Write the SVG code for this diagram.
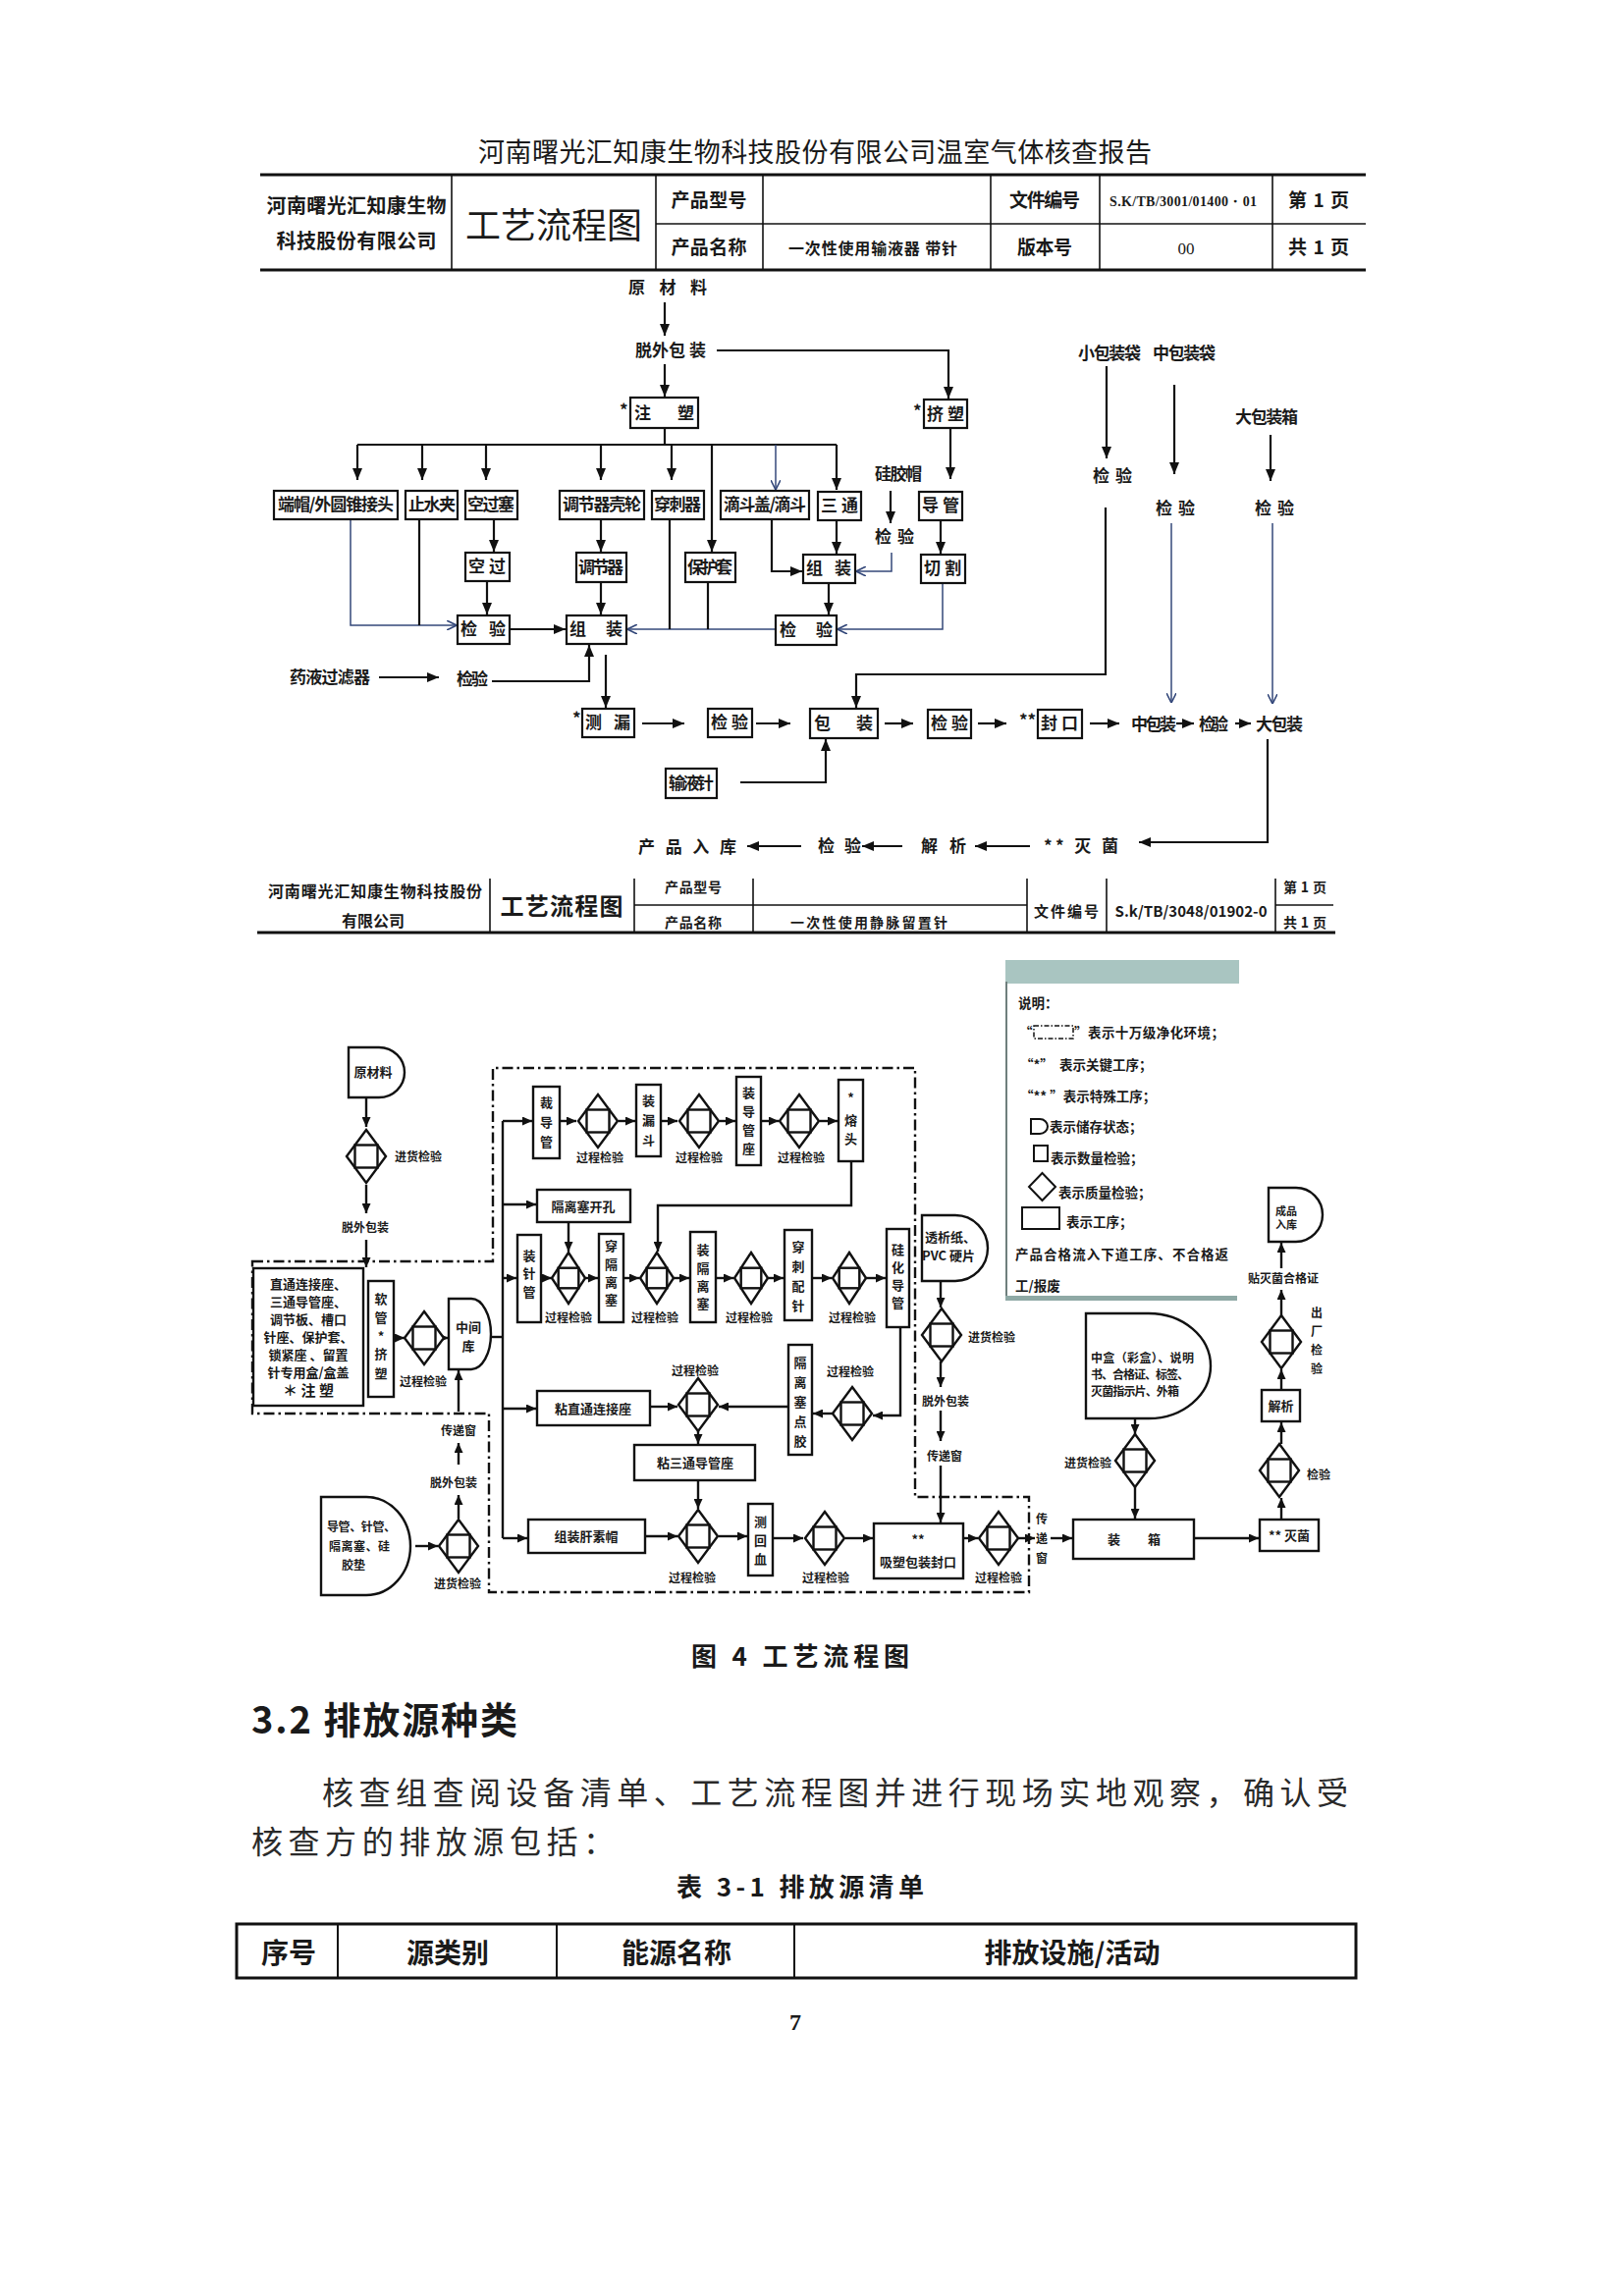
<svg xmlns="http://www.w3.org/2000/svg" width="1653" height="2339" viewBox="0 0 1653 2339">
<style>
text{font-family:"Noto Sans CJK SC","Noto Sans",sans-serif;fill:#1a1a1a}
.t0{font-size:27px}
.h1{font-size:19px;font-weight:bold}
.h2{font-size:14px;font-weight:bold}
.f1{font-size:17px;font-weight:bold}
.f2{font-size:13px;font-weight:bold}
.f3{font-size:12px;font-weight:bold}
.lg{font-size:13.5px;font-weight:bold}
.m{text-anchor:middle}
.ln{fill:none;stroke:#111;stroke-width:2.2}
.tn{fill:none;stroke:#34487a;stroke-width:1.5}
.bx{fill:#fff;stroke:#111;stroke-width:2.2}
.bx2{fill:#fff;stroke:#111;stroke-width:2.4}
.hl{stroke:#111;stroke-width:1.6}
.hk{stroke:#111;stroke-width:3}
.dd{fill:none;stroke:#111;stroke-width:2.4;stroke-dasharray:11,4,2.5,4}
.l2{fill:none;stroke:#111;stroke-width:2.4}
.sr{font-family:"Liberation Serif",serif}
.body{font-size:32px;fill:#2a2a2a}
</style>
<defs>
<marker id="a1" viewBox="0 0 12 10" markerWidth="12" markerHeight="10" refX="12" refY="5" orient="auto" markerUnits="userSpaceOnUse"><path d="M0,0 L12,5 L0,10 z" fill="#111"/></marker>
<marker id="at" viewBox="0 0 10 10" markerWidth="10" markerHeight="10" refX="10" refY="5" orient="auto" markerUnits="userSpaceOnUse"><path d="M0,0 L10,5 L0,10" fill="none" stroke="#34487a" stroke-width="1.6"/></marker>
<marker id="a2" viewBox="0 0 10 9" markerWidth="10" markerHeight="9" refX="10" refY="4.5" orient="auto" markerUnits="userSpaceOnUse"><path d="M0,0 L10,4.5 L0,9 z" fill="#111"/></marker>
<g id="dq"><polygon points="0,-27 20,0 0,27 -20,0" fill="#fff" stroke="#111" stroke-width="2.4"/><rect x="-11.5" y="-11.5" width="23" height="23" fill="none" stroke="#111" stroke-width="2.4"/></g>
<g id="dq2"><polygon points="0,-26 17,0 0,26 -17,0" fill="#fff" stroke="#111" stroke-width="2.4"/><rect x="-10.3" y="-10.3" width="20.6" height="20.6" fill="none" stroke="#111" stroke-width="2.4"/></g>
</defs>
<rect width="1653" height="2339" fill="#fff"/>

<!-- page title -->
<g id="page-title"><text class="t0 m" x="830" y="165" textLength="686">河南曙光汇知康生物科技股份有限公司温室气体核查报告</text></g>

<!-- header 1 -->
<g id="header1">
<line class="hk" x1="265" y1="178" x2="1391" y2="178"/>
<line class="hk" x1="265" y1="275" x2="1391" y2="275"/>
<line class="hl" x1="668" y1="228" x2="1391" y2="228"/>
<line class="hl" x1="460" y1="178" x2="460" y2="275"/>
<line class="hl" x1="668" y1="178" x2="668" y2="275"/>
<line class="hl" x1="777" y1="178" x2="777" y2="275"/>
<line class="hl" x1="1009" y1="178" x2="1009" y2="275"/>
<line class="hl" x1="1120" y1="178" x2="1120" y2="275"/>
<line class="hl" x1="1296" y1="178" x2="1296" y2="275"/>
<text class="m" x="363" y="217" style="font-size:20px;font-weight:bold" textLength="183">河南曙光汇知康生物</text>
<text class="m" x="363" y="253" style="font-size:20px;font-weight:bold" textLength="163">科技股份有限公司</text>
<text class="m" x="564" y="243" style="font-size:36px" textLength="180">工艺流程图</text>
<text class="h1 m" x="722" y="211" textLength="77">产品型号</text>
<text class="h1 m" x="722" y="259" textLength="77">产品名称</text>
<text class="m" x="889" y="259" style="font-size:16px;font-weight:bold" textLength="172">一次性使用输液器 带针</text>
<text class="h1 m" x="1064" y="211" textLength="72">文件编号</text>
<text class="h1 m" x="1064" y="259" textLength="56">版本号</text>
<text class="sr m" x="1205" y="210" style="font-size:14px;font-weight:bold" textLength="150">S.K/TB/3001/01400・01</text>
<text class="sr m" x="1208" y="259" style="font-size:17px">00</text>
<text class="h1 m" x="1343" y="211" textLength="62">第 1 页</text>
<text class="h1 m" x="1343" y="259" textLength="62">共 1 页</text>
</g>

<!-- flowchart 1 connectors -->
<g id="connectors1">
<path class="ln" d="M677,308 V342" marker-end="url(#a1)"/>
<path class="ln" d="M677,371 V404" marker-end="url(#a1)"/>
<path class="ln" d="M730,357 H966 V406" marker-end="url(#a1)"/>
<path class="ln" d="M677,436 V453 M364,453 H852"/>
<path class="ln" d="M364,453 V489" marker-end="url(#a1)"/>
<path class="ln" d="M430,453 V489" marker-end="url(#a1)"/>
<path class="ln" d="M495,453 V489" marker-end="url(#a1)"/>
<path class="ln" d="M612,453 V489" marker-end="url(#a1)"/>
<path class="ln" d="M684,453 V489" marker-end="url(#a1)"/>
<path class="ln" d="M725,453 V562" marker-end="url(#a1)"/>
<path class="tn" d="M790,453 V499" marker-end="url(#at)"/>
<path class="ln" d="M852,453 V499" marker-end="url(#a1)"/>
<path class="ln" d="M968,437 V488" marker-end="url(#a1)"/>
<path class="ln" d="M907,500 V533" marker-end="url(#a1)"/>
<path class="tn" d="M908,563 V582 H872" marker-end="url(#at)"/>
<path class="ln" d="M786,529 V582 H817" marker-end="url(#a1)"/>
<path class="ln" d="M852,529 V564" marker-end="url(#a1)"/>
<path class="ln" d="M958,529 V564" marker-end="url(#a1)"/>
<path class="ln" d="M503,529 V562" marker-end="url(#a1)"/>
<path class="ln" d="M612,529 V562" marker-end="url(#a1)"/>
<path class="ln" d="M844,594 V626" marker-end="url(#a1)"/>
<path class="tn" d="M960,594 V641 H853" marker-end="url(#at)"/>
<path class="tn" d="M790,641 H639" marker-end="url(#at)"/>
<path class="ln" d="M682,529 V641"/>
<path class="ln" d="M721,593 V641"/>
<path class="ln" d="M496,592 V626" marker-end="url(#a1)"/>
<path class="tn" d="M357,529 V637 H465" marker-end="url(#at)"/>
<path class="ln" d="M427,529 V637"/>
<path class="ln" d="M519,641 H576" marker-end="url(#a1)"/>
<path class="ln" d="M612,593 V626" marker-end="url(#a1)"/>
<path class="ln" d="M386,690 H447" marker-end="url(#a1)"/>
<path class="ln" d="M501,694 H600 V657" marker-end="url(#a1)"/>
<path class="ln" d="M617,667 V721" marker-end="url(#a1)"/>
<path class="ln" d="M654,737 H697" marker-end="url(#a1)"/>
<path class="ln" d="M770,737 H805" marker-end="url(#a1)"/>
<path class="ln" d="M901,737 H930" marker-end="url(#a1)"/>
<path class="ln" d="M996,737 H1025" marker-end="url(#a1)"/>
<path class="ln" d="M1110,737 H1140" marker-end="url(#a1)"/>
<path class="ln" d="M1198,737 H1216" marker-end="url(#a1)"/>
<path class="ln" d="M1258,737 H1274" marker-end="url(#a1)"/>
<path class="ln" d="M754,797 H841 V753" marker-end="url(#a1)"/>
<path class="ln" d="M1127,373 V467" marker-end="url(#a1)"/>
<path class="ln" d="M1126,517 V687 H872 V721" marker-end="url(#a1)"/>
<path class="ln" d="M1196,392 V483" marker-end="url(#a1)"/>
<path class="tn" d="M1193,533 V716" marker-end="url(#at)"/>
<path class="ln" d="M1294,443 V490" marker-end="url(#a1)"/>
<path class="tn" d="M1296,533 V717" marker-end="url(#at)"/>
<path class="ln" d="M1291,753 V858 H1160" marker-end="url(#a1)"/>
<path class="ln" d="M1049,862 H993" marker-end="url(#a1)"/>
<path class="ln" d="M919,862 H878" marker-end="url(#a1)"/>
<path class="ln" d="M816,862 H761" marker-end="url(#a1)"/>
</g>

<!-- flowchart 1 nodes -->
<g id="n1-yuancailiao"><text class="f1 m" x="680" y="299" textLength="80">原 材 料</text></g>
<g id="n1-tuowaibaozhuang"><text class="f1 m" x="683" y="363" textLength="72">脱外包 装</text></g>
<g id="n1-zhusu"><rect class="bx" x="642" y="405" width="69" height="31"/><text class="f1" x="646" y="427" textLength="61">注塑</text><text class="f1" x="631" y="424">*</text></g>
<g id="n1-jisu"><rect class="bx" x="941" y="407" width="44" height="29"/><text class="f1 m" x="963" y="428" textLength="38">挤塑</text><text class="f1" x="930" y="425">*</text></g>
<g id="n1-duanmao"><rect class="bx" x="279" y="500" width="126" height="29"/><text class="f1 m" x="342" y="520" textLength="118">端帽/外圆锥接头</text></g>
<g id="n1-zhishuijia"><rect class="bx" x="413" y="500" width="53" height="29"/><text class="f1 m" x="440" y="520" textLength="48">止水夹</text></g>
<g id="n1-kongguosai"><rect class="bx" x="474" y="500" width="53" height="29"/><text class="f1 m" x="500" y="520" textLength="48">空过塞</text></g>
<g id="n1-tiaojieqikelun"><rect class="bx" x="570" y="500" width="86" height="29"/><text class="f1 m" x="613" y="520" textLength="80">调节器壳轮</text></g>
<g id="n1-chuanciqi"><rect class="bx" x="664" y="500" width="53" height="29"/><text class="f1 m" x="690" y="520" textLength="48">穿刺器</text></g>
<g id="n1-didougai"><rect class="bx" x="734" y="500" width="90" height="29"/><text class="f1 m" x="779" y="520" textLength="84">滴斗盖/滴斗</text></g>
<g id="n1-santong"><rect class="bx" x="833" y="501" width="44" height="29"/><text class="f1 m" x="855" y="521" textLength="38">三通</text></g>
<g id="n1-daoguan"><rect class="bx" x="936" y="501" width="44" height="29"/><text class="f1 m" x="958" y="521" textLength="38">导管</text></g>
<g id="n1-guijiaomao"><text class="f1 m" x="915" y="489" textLength="48">硅胶帽</text></g>
<g id="n1-jianyan-gjm"><text class="f1 m" x="911" y="553" textLength="40">检 验</text></g>
<g id="n1-kongguo"><rect class="bx" x="474" y="563" width="45" height="29"/><text class="f1 m" x="496" y="583" textLength="38">空过</text></g>
<g id="n1-tiaojieqi"><rect class="bx" x="587" y="563" width="51" height="30"/><text class="f1 m" x="612" y="584" textLength="46">调节器</text></g>
<g id="n1-baohutao"><rect class="bx" x="698" y="563" width="51" height="30"/><text class="f1 m" x="723" y="584" textLength="46">保护套</text></g>
<g id="n1-zuzhuang-r"><rect class="bx" x="818" y="565" width="53" height="29"/><text class="f1 m" x="844" y="585" textLength="46">组装</text></g>
<g id="n1-qiege"><rect class="bx" x="938" y="565" width="45" height="29"/><text class="f1 m" x="960" y="585" textLength="38">切割</text></g>
<g id="n1-jianyan-l"><rect class="bx" x="466" y="627" width="53" height="29"/><text class="f1 m" x="492" y="647" textLength="46">检验</text></g>
<g id="n1-zuzhuang-m"><rect class="bx" x="577" y="627" width="61" height="29"/><text class="f1 m" x="607" y="647" textLength="54">组装</text></g>
<g id="n1-jianyan-r"><rect class="bx" x="790" y="627" width="62" height="30"/><text class="f1 m" x="821" y="648" textLength="54">检验</text></g>
<g id="n1-yaoye"><text class="f1 m" x="336" y="696" textLength="82">药液过滤器</text></g>
<g id="n1-jianyan-yy"><text class="f1 m" x="481" y="698" textLength="32">检验</text></g>
<g id="n1-celou"><rect class="bx" x="593" y="722" width="53" height="29"/><text class="f1 m" x="619" y="742" textLength="46">测漏</text><text class="f1" x="583" y="738">*</text></g>
<g id="n1-jianyan-cl"><rect class="bx" x="721" y="722" width="45" height="29"/><text class="f1 m" x="743" y="742" textLength="38">检验</text></g>
<g id="n1-baozhuang"><rect class="bx" x="825" y="722" width="69" height="30"/><text class="f1 m" x="859" y="743" textLength="60">包装</text></g>
<g id="n1-jianyan-bz"><rect class="bx" x="945" y="723" width="44" height="29"/><text class="f1 m" x="967" y="743" textLength="38">检验</text></g>
<g id="n1-fengkou"><rect class="bx" x="1057" y="723" width="45" height="29"/><text class="f1 m" x="1079" y="743" textLength="38">封口</text><text class="f1" x="1038" y="740">**</text></g>
<g id="n1-shuyezhen"><rect class="bx" x="678" y="783" width="52" height="30"/><text class="f1 m" x="704" y="804" textLength="46">输液针</text></g>
<g id="n1-xiaobao"><text class="f1 m" x="1130" y="366" textLength="64">小包装袋</text></g>
<g id="n1-zhongbao"><text class="f1 m" x="1206" y="366" textLength="64">中包装袋</text></g>
<g id="n1-dabaoxiang"><text class="f1 m" x="1290" y="431" textLength="64">大包装箱</text></g>
<g id="n1-jy-xb"><text class="f1 m" x="1133" y="491" textLength="40">检 验</text></g>
<g id="n1-jy-zb"><text class="f1 m" x="1197" y="524" textLength="40">检 验</text></g>
<g id="n1-jy-db"><text class="f1 m" x="1298" y="524" textLength="40">检 验</text></g>
<g id="n1-zhongbaozhuang"><text class="f1 m" x="1175" y="744" textLength="46">中包装</text></g>
<g id="n1-jy-zbz"><text class="f1 m" x="1236" y="744" textLength="30">检验</text></g>
<g id="n1-dabaozhuang"><text class="f1 m" x="1303" y="744" textLength="48">大包装</text></g>
<g id="n1-miejun"><text class="f1 m" x="1101" y="868" textLength="76">** 灭 菌</text></g>
<g id="n1-jiexi"><text class="f1 m" x="961" y="868" textLength="46">解 析</text></g>
<g id="n1-jy-last"><text class="f1 m" x="855" y="868" textLength="44">检 验</text></g>
<g id="n1-ruku"><text class="f1 m" x="700" y="869" textLength="100">产 品 入 库</text></g>

<!-- header 2 -->
<g id="header2">
<line class="hk" x1="262" y1="950" x2="1360" y2="950"/>
<line class="hl" x1="646" y1="922" x2="1046" y2="922"/>
<line class="hl" x1="1299" y1="922" x2="1358" y2="922"/>
<line class="hl" x1="499" y1="895" x2="499" y2="950"/>
<line class="hl" x1="646" y1="895" x2="646" y2="950"/>
<line class="hl" x1="767" y1="895" x2="767" y2="950"/>
<line class="hl" x1="1046" y1="895" x2="1046" y2="950"/>
<line class="hl" x1="1127" y1="895" x2="1127" y2="950"/>
<line class="hl" x1="1299" y1="895" x2="1299" y2="950"/>
<text class="m" x="382" y="914" style="font-size:16px;font-weight:bold" textLength="218">河南曙光汇知康生物科技股份</text>
<text class="m" x="380" y="944" style="font-size:16px;font-weight:bold" textLength="64">有限公司</text>
<text class="m" x="572" y="932" style="font-size:24px;font-weight:bold" textLength="125">工艺流程图</text>
<text class="h2 m" x="706" y="909" textLength="58">产品型号</text>
<text class="h2 m" x="706" y="945" textLength="58">产品名称</text>
<text class="h2 m" x="885" y="945" textLength="160">一次性使用静脉留置针</text>
<text class="m" x="1086" y="934" style="font-size:15px;font-weight:bold" textLength="66">文件编号</text>
<text class="m" x="1213" y="934" style="font-size:15px;font-weight:bold" textLength="155">S.k/TB/3048/01902-0</text>
<text class="h2 m" x="1329" y="909" textLength="44">第1页</text>
<text class="h2 m" x="1329" y="945" textLength="44">共1页</text>
</g>

<!-- clean room boundary -->
<g id="cleanroom">
<path class="dd" d="M257,1285 H502 V1088 H932 V1525 H1048 V1622 H498 V1440 H257 Z"/>
</g>

<!-- flowchart 2 connectors -->
<g id="connectors2">
<path class="l2" d="M373,1118 V1148" marker-end="url(#a2)"/>
<path class="l2" d="M373,1207 V1236" marker-end="url(#a2)"/>
<path class="l2" d="M373,1263 V1291" marker-end="url(#a2)"/>
<path class="l2" d="M401,1363 H412" marker-end="url(#a2)"/>
<path class="l2" d="M452,1363 H457" marker-end="url(#a2)"/>
<path class="l2" d="M500,1362 H512"/>
<path class="l2" d="M512,1142 V1567"/>
<path class="l2" d="M512,1142 H542" marker-end="url(#a2)"/>
<path class="l2" d="M512,1227 H546" marker-end="url(#a2)"/>
<path class="l2" d="M512,1302 H526" marker-end="url(#a2)"/>
<path class="l2" d="M512,1435 H546" marker-end="url(#a2)"/>
<path class="l2" d="M512,1567 H537" marker-end="url(#a2)"/>
<path class="l2" d="M467,1438 V1396" marker-end="url(#a2)"/>
<path class="l2" d="M467,1492 V1470" marker-end="url(#a2)"/>
<path class="l2" d="M467,1547 V1523" marker-end="url(#a2)"/>
<path class="l2" d="M423,1575 H446" marker-end="url(#a2)"/>
<path class="l2" d="M570,1142 H587" marker-end="url(#a2)"/>
<path class="l2" d="M630,1142 H647" marker-end="url(#a2)"/>
<path class="l2" d="M673,1142 H690" marker-end="url(#a2)"/>
<path class="l2" d="M733,1142 H749" marker-end="url(#a2)"/>
<path class="l2" d="M775,1142 H793" marker-end="url(#a2)"/>
<path class="l2" d="M835,1142 H853" marker-end="url(#a2)"/>
<path class="l2" d="M867,1183 V1228 H670 V1275" marker-end="url(#a2)"/>
<path class="l2" d="M579,1245 V1275" marker-end="url(#a2)"/>
<path class="l2" d="M551,1302 H562" marker-end="url(#a2)"/>
<path class="l2" d="M596,1302 H609" marker-end="url(#a2)"/>
<path class="l2" d="M635,1302 H651" marker-end="url(#a2)"/>
<path class="l2" d="M686,1302 H702" marker-end="url(#a2)"/>
<path class="l2" d="M729,1302 H747" marker-end="url(#a2)"/>
<path class="l2" d="M782,1302 H798" marker-end="url(#a2)"/>
<path class="l2" d="M827,1302 H847" marker-end="url(#a2)"/>
<path class="l2" d="M882,1302 H902" marker-end="url(#a2)"/>
<path class="l2" d="M917,1352 V1442 H889" marker-end="url(#a2)"/>
<path class="l2" d="M848,1440 H828" marker-end="url(#a2)"/>
<path class="l2" d="M803,1433 H732" marker-end="url(#a2)"/>
<path class="l2" d="M662,1433 H690" marker-end="url(#a2)"/>
<path class="l2" d="M711,1458 V1471" marker-end="url(#a2)"/>
<path class="l2" d="M711,1508 V1537" marker-end="url(#a2)"/>
<path class="l2" d="M657,1565 H690" marker-end="url(#a2)"/>
<path class="l2" d="M732,1565 H761" marker-end="url(#a2)"/>
<path class="l2" d="M787,1567 H818" marker-end="url(#a2)"/>
<path class="l2" d="M861,1567 H889" marker-end="url(#a2)"/>
<path class="l2" d="M981,1567 H996" marker-end="url(#a2)"/>
<path class="l2" d="M1037,1567 H1054" marker-end="url(#a2)"/>
<path class="l2" d="M1070,1567 H1092" marker-end="url(#a2)"/>
<path class="l2" d="M1216,1567 H1282" marker-end="url(#a2)"/>
<path class="l2" d="M1305,1548 V1526" marker-end="url(#a2)"/>
<path class="l2" d="M1305,1471 V1449" marker-end="url(#a2)"/>
<path class="l2" d="M1305,1416 V1395" marker-end="url(#a2)"/>
<path class="l2" d="M1305,1340 V1314" marker-end="url(#a2)"/>
<path class="l2" d="M1305,1292 V1266" marker-end="url(#a2)"/>
<path class="l2" d="M1156,1445 V1461" marker-end="url(#a2)"/>
<path class="l2" d="M1156,1515 V1547" marker-end="url(#a2)"/>
<path class="l2" d="M958,1305 V1332" marker-end="url(#a2)"/>
<path class="l2" d="M958,1387 V1413" marker-end="url(#a2)"/>
<path class="l2" d="M958,1437 V1468" marker-end="url(#a2)"/>
<path class="l2" d="M958,1493 V1551" marker-end="url(#a2)"/>
</g>

<!-- flowchart 2 nodes -->
<g id="n2-yuancailiao"><path class="bx2" d="M355,1067 H386 A26,25.5 0 0 1 386,1118 H355 Z"/><text class="f2 m" x="380" y="1097">原材料</text></g>
<g id="n2-jinhuo1"><use href="#dq" x="373" y="1178"/><text class="f3 m" x="426" y="1183">进货检验</text></g>
<g id="n2-tuowai1"><text class="f3 m" x="372" y="1255">脱外包装</text></g>
<g id="n2-zhusu-parts"><rect class="bx2" x="258" y="1292" width="112" height="140"/>
<text class="f2 m" x="314" y="1313">直通连接座、</text>
<text class="f2 m" x="314" y="1331">三通导管座、</text>
<text class="f2 m" x="314" y="1349">调节板、槽口</text>
<text class="f2 m" x="314" y="1367">针座、保护套、</text>
<text class="f2 m" x="314" y="1385">锁紧座 、留置</text>
<text class="f2 m" x="314" y="1403">针专用盒/盒盖</text>
<text class="m" x="314" y="1422" style="font-size:15px;font-weight:bold">＊ 注 塑</text></g>
<g id="n2-ruanguan"><rect class="bx2" x="375" y="1305" width="26" height="118"/><text class="f2 m"><tspan x="388" y="1328">软</tspan><tspan x="388" y="1347">管</tspan><tspan x="388" y="1366">*</tspan><tspan x="388" y="1384">挤</tspan><tspan x="388" y="1404">塑</tspan></text></g>
<g id="n2-guocheng-rg"><use href="#dq" x="432" y="1363"/><text class="f3 m" x="431" y="1412">过程检验</text></g>
<g id="n2-zhongjianku"><path class="bx2" d="M457,1323 H480 A20,36 0 0 1 480,1395 H457 Z"/><text class="f2 m" x="477" y="1357">中间</text><text class="f2 m" x="477" y="1376">库</text></g>
<g id="n2-chuandi-l"><text class="f3 m" x="467" y="1462">传递窗</text></g>
<g id="n2-tuowai-l"><text class="f3 m" x="462" y="1515">脱外包装</text></g>
<g id="n2-jinhuo-l"><use href="#dq" x="467" y="1575"/><text class="f3 m" x="466" y="1618">进货检验</text></g>
<g id="n2-daoguan-d"><path class="bx2" d="M327,1525 H373 A45,50 0 0 1 373,1625 H327 Z"/><text class="f3 m" x="368" y="1560" textLength="70">导管、针管、</text><text class="f3 m" x="366" y="1580" textLength="62">隔离塞、硅</text><text class="f3 m" x="360" y="1599">胶垫</text></g>

<g id="n2-caidaoguan"><rect class="bx2" x="543" y="1107" width="27" height="73"/><text class="f2 m"><tspan x="556.5" y="1128">裁</tspan><tspan x="556.5" y="1148">导</tspan><tspan x="556.5" y="1168">管</tspan></text></g>
<g id="n2-gc1"><use href="#dq" x="609" y="1142"/><text class="f3 m" x="611" y="1184">过程检验</text></g>
<g id="n2-zhuangloudou"><rect class="bx2" x="648" y="1105" width="25" height="73"/><text class="f2 m"><tspan x="660.5" y="1126">装</tspan><tspan x="660.5" y="1146">漏</tspan><tspan x="660.5" y="1166">斗</tspan></text></g>
<g id="n2-gc2"><use href="#dq" x="712" y="1142"/><text class="f3 m" x="712" y="1184">过程检验</text></g>
<g id="n2-zhuangdaoguanzuo"><rect class="bx2" x="750" y="1097" width="25" height="90"/><text class="f2 m"><tspan x="762.5" y="1118">装</tspan><tspan x="762.5" y="1137">导</tspan><tspan x="762.5" y="1156">管</tspan><tspan x="762.5" y="1175">座</tspan></text></g>
<g id="n2-gc3"><use href="#dq" x="814" y="1142"/><text class="f3 m" x="816" y="1184">过程检验</text></g>
<g id="n2-rongtou"><rect class="bx2" x="854" y="1100" width="25" height="83"/><text class="f2 m"><tspan x="866.5" y="1123">*</tspan><tspan x="866.5" y="1146">熔</tspan><tspan x="866.5" y="1165">头</tspan></text></g>
<g id="n2-kaikong"><rect class="bx2" x="547" y="1212" width="95" height="33"/><text class="f2 m" x="594" y="1234">隔离塞开孔</text></g>

<g id="n2-zhuangzhenguan"><rect class="bx2" x="527" y="1258" width="24" height="89"/><text class="f2 m"><tspan x="539" y="1284">装</tspan><tspan x="539" y="1302">针</tspan><tspan x="539" y="1321">管</tspan></text></g>
<g id="n2-gc4"><use href="#dq2" x="579" y="1302"/><text class="f3 m" x="579" y="1347">过程检验</text></g>
<g id="n2-chuangelisai"><rect class="bx2" x="610" y="1257" width="25" height="90"/><text class="f2 m"><tspan x="622.5" y="1274">穿</tspan><tspan x="622.5" y="1293">隔</tspan><tspan x="622.5" y="1311">离</tspan><tspan x="622.5" y="1329">塞</tspan></text></g>
<g id="n2-gc5"><use href="#dq2" x="669" y="1302"/><text class="f3 m" x="667" y="1347">过程检验</text></g>
<g id="n2-zhuanggelisai"><rect class="bx2" x="703" y="1255" width="26" height="92"/><text class="f2 m"><tspan x="716" y="1278">装</tspan><tspan x="716" y="1297">隔</tspan><tspan x="716" y="1315">离</tspan><tspan x="716" y="1333">塞</tspan></text></g>
<g id="n2-gc6"><use href="#dq2" x="765" y="1302"/><text class="f3 m" x="763" y="1347">过程检验</text></g>
<g id="n2-chuancipeizhen"><rect class="bx2" x="799" y="1253" width="28" height="92"/><text class="f2 m"><tspan x="813" y="1275">穿</tspan><tspan x="813" y="1295">刺</tspan><tspan x="813" y="1315">配</tspan><tspan x="813" y="1335">针</tspan></text></g>
<g id="n2-gc7"><use href="#dq2" x="865" y="1302"/><text class="f3 m" x="868" y="1347">过程检验</text></g>
<g id="n2-guihuadaoguan"><rect class="bx2" x="903" y="1252" width="23" height="100"/><text class="f2 m"><tspan x="914.5" y="1278">硅</tspan><tspan x="914.5" y="1296">化</tspan><tspan x="914.5" y="1314">导</tspan><tspan x="914.5" y="1332">管</tspan></text></g>

<g id="n2-gc8"><use href="#dq" x="868" y="1440"/><text class="f3 m" x="866" y="1402">过程检验</text></g>
<g id="n2-dianjiao"><rect class="bx2" x="803" y="1370" width="24" height="112"/><text class="f2 m"><tspan x="815" y="1393">隔</tspan><tspan x="815" y="1413">离</tspan><tspan x="815" y="1433">塞</tspan><tspan x="815" y="1453">点</tspan><tspan x="815" y="1473">胶</tspan></text></g>
<g id="n2-gc9"><use href="#dq" x="711" y="1431"/><text class="f3 m" x="708" y="1401">过程检验</text></g>
<g id="n2-zhitong"><rect class="bx2" x="547" y="1417" width="115" height="35"/><text class="f2 m" x="604" y="1440">粘直通连接座</text></g>
<g id="n2-santong"><rect class="bx2" x="646" y="1472" width="123" height="36"/><text class="f2 m" x="708" y="1495">粘三通导管座</text></g>
<g id="n2-gansumao"><rect class="bx2" x="538" y="1548" width="119" height="34"/><text class="f2 m" x="597" y="1570">组装肝素帽</text></g>
<g id="n2-gc10"><use href="#dq" x="711" y="1565"/><text class="f3 m" x="705" y="1612">过程检验</text></g>
<g id="n2-cehuixue"><rect class="bx2" x="762" y="1532" width="25" height="73"/><text class="f2 m"><tspan x="774.5" y="1555">测</tspan><tspan x="774.5" y="1574">回</tspan><tspan x="774.5" y="1593">血</tspan></text></g>
<g id="n2-gc11"><use href="#dq" x="840" y="1567"/><text class="f3 m" x="841" y="1612">过程检验</text></g>
<g id="n2-xisu"><rect class="bx2" x="890" y="1552" width="91" height="56"/><text class="f2 m" x="935" y="1573">**</text><text class="f2 m" x="935" y="1596">吸塑包装封口</text></g>
<g id="n2-gc12"><use href="#dq" x="1017" y="1567"/><text class="f3 m" x="1017" y="1612">过程检验</text></g>
<g id="n2-chuandi-r"><text class="f3 m"><tspan x="1061" y="1552">传</tspan><tspan x="1061" y="1572">递</tspan><tspan x="1061" y="1592">窗</tspan></text></g>
<g id="n2-zhuangxiang"><rect class="bx2" x="1093" y="1548" width="123" height="40"/><text class="f2 m" x="1155" y="1573" textLength="54">装箱</text></g>
<g id="n2-miejun"><rect class="bx2" x="1283" y="1548" width="60" height="32"/><text class="f2 m" x="1313" y="1569">** 灭菌</text></g>
<g id="n2-jianyan"><use href="#dq" x="1303" y="1498"/><text class="f3 m" x="1343" y="1507">检验</text></g>
<g id="n2-jiexi"><rect class="bx2" x="1285" y="1416" width="39" height="32"/><text class="f2 m" x="1304.5" y="1437">解析</text></g>
<g id="n2-chuchang"><use href="#dq" x="1305" y="1367"/><text class="f3 m"><tspan x="1341" y="1342">出</tspan><tspan x="1341" y="1361">厂</tspan><tspan x="1341" y="1380">检</tspan><tspan x="1341" y="1399">验</tspan></text></g>
<g id="n2-tiehegezheng"><text class="f3 m" x="1307" y="1307">贴灭菌合格证</text></g>
<g id="n2-chengpin"><path class="bx2" d="M1292,1210 H1320 A27,27.5 0 0 1 1320,1265 H1292 Z"/><text class="m" x="1310" y="1238" style="font-size:11px;font-weight:bold">成品</text><text class="m" x="1310" y="1252" style="font-size:11px;font-weight:bold">入库</text></g>
<g id="n2-zhonghe"><path class="bx2" d="M1106,1338 H1170 A63,53.5 0 0 1 1170,1445 H1106 Z"/><text class="f3" x="1111" y="1388" textLength="105">中盒（彩盒）、说明</text><text class="f3" x="1111" y="1405" textLength="100">书、合格证、标签、</text><text class="f3" x="1111" y="1422" textLength="90">灭菌指示片、外箱</text></g>
<g id="n2-jinhuo-zh"><use href="#dq" x="1156" y="1488"/><text class="f3 m" x="1108" y="1495">进货检验</text></g>
<g id="n2-touxizhi"><path class="bx2" d="M939,1238 H973 A33,33.5 0 0 1 973,1305 H939 Z"/><text class="f2 m" x="968" y="1265">透析纸、</text><text class="f2 m" x="966" y="1284">PVC 硬片</text></g>
<g id="n2-jinhuo-tx"><use href="#dq" x="959" y="1360"/><text class="f3 m" x="1010" y="1367">进货检验</text></g>
<g id="n2-tuowai-tx"><text class="f3 m" x="963" y="1432">脱外包装</text></g>
<g id="n2-chuandi-tx"><text class="f3 m" x="962" y="1488">传递窗</text></g>

<!-- legend -->
<g id="legend">
<rect x="1024" y="978" width="238" height="24" fill="#a9c5c1"/>
<line x1="1025" y1="1000" x2="1025" y2="1323" stroke="#6f7f7d" stroke-width="2"/>
<rect x="1024" y="1320" width="236" height="5" fill="#8fa9a5"/>
<text class="lg" x="1037" y="1027">说明：</text>
<text class="lg" x="1038" y="1057">“</text>
<rect x="1053" y="1045" width="40" height="13" fill="none" stroke="#111" stroke-width="1.5" stroke-dasharray="5,2,1.5,2"/>
<text class="lg" x="1094" y="1057" textLength="153">”表示十万级净化环境；</text>
<text class="lg" x="1039" y="1090">“*”</text>
<text class="lg" x="1079" y="1090">表示关键工序；</text>
<text class="lg" x="1039" y="1122">“** ”表示特殊工序；</text>
<path d="M1050,1140 H1059 A8,7.5 0 0 1 1059,1155 H1050 Z" fill="none" stroke="#111" stroke-width="2"/>
<text class="lg" x="1069" y="1153">表示储存状态；</text>
<rect x="1053" y="1167" width="14" height="16" fill="none" stroke="#111" stroke-width="2"/>
<text class="lg" x="1070" y="1185">表示数量检验；</text>
<polygon points="1061.5,1195 1075,1209 1061.5,1223 1048,1209" fill="none" stroke="#111" stroke-width="2"/>
<text class="lg" x="1078" y="1220">表示质量检验；</text>
<rect x="1041" y="1230" width="38" height="22" fill="none" stroke="#111" stroke-width="2"/>
<text class="lg" x="1086" y="1250">表示工序；</text>
<text class="lg" x="1034" y="1283" textLength="217">产品合格流入下道工序、不合格返</text>
<text class="lg" x="1034" y="1315">工/报废</text>
</g>

<!-- body text -->
<g id="caption"><text class="m" x="815" y="1697" style="font-size:26px;font-weight:bold" textLength="222">图 4  工艺流程图</text></g>
<g id="section"><text x="256" y="1766" style="font-size:38px;font-weight:bold" textLength="271">3.2 排放源种类</text></g>
<g id="paragraph">
<text class="body" x="328" y="1838" textLength="1045">核查组查阅设备清单、工艺流程图并进行现场实地观察，确认受</text>
<text class="body" x="256" y="1888" textLength="370">核查方的排放源包括：</text>
</g>
<g id="table-caption"><text class="m" x="815" y="1932" style="font-size:26px;font-weight:bold" textLength="252">表 3-1  排放源清单</text></g>
<g id="table">
<rect x="241" y="1960" width="1140" height="55" fill="none" stroke="#111" stroke-width="3"/>
<line x1="344" y1="1960" x2="344" y2="2015" stroke="#111" stroke-width="2"/>
<line x1="567" y1="1960" x2="567" y2="2015" stroke="#111" stroke-width="2"/>
<line x1="809" y1="1960" x2="809" y2="2015" stroke="#111" stroke-width="2"/>
<text class="m" x="294" y="2000" style="font-size:28px;font-weight:bold">序号</text>
<text class="m" x="456" y="2000" style="font-size:28px;font-weight:bold">源类别</text>
<text class="m" x="689" y="2000" style="font-size:28px;font-weight:bold">能源名称</text>
<text class="m" x="1092" y="2000" style="font-size:28px;font-weight:bold">排放设施/活动</text>
</g>
<g id="page-number"><text class="sr m" x="810" y="2068" style="font-size:24px;font-weight:bold">7</text></g>
</svg>
